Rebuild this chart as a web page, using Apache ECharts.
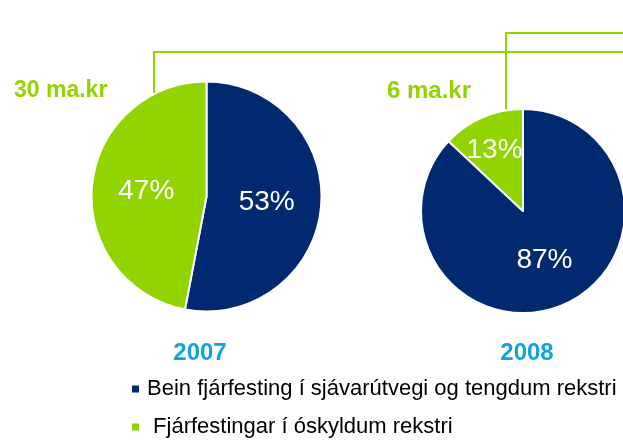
<!DOCTYPE html>
<html>
<head>
<meta charset="utf-8">
<script src="https://cdn.jsdelivr.net/npm/echarts@6/dist/echarts.min.js"></script>
<style>
  html, body { margin: 0; padding: 0; background: #fff; }
  #chart { width: 623px; height: 443px; }
</style>
</head>
<body>
<div id="chart"></div>
<script>
// data
const years = ['2007', '2008'];
const totals = [30, 6]; // ma.kr
const categories = ['Bein fjárfesting í sjávarútvegi og tengdum rekstri', 'Fjárfestingar í óskyldum rekstri'];
const beinShare = [53, 87];
const otherShare = [47, 13];

const BLUE = '#00296F';
const GREEN = '#92D400';
const YEAR_BLUE = '#0FA3DF';
const FONT = '"Liberation Sans", Arial, sans-serif';

const pieCenters = [[206.5, 196.5], [523, 211]];
const pieRadius = [115, 102];
const totalPos = [[14, 79], [387, 79]];
const yearX = [200, 527];

const chart = echarts.init(document.getElementById('chart'));

const series = years.map((y, i) => ({
  name: y,
  type: 'pie',
  center: pieCenters[i],
  radius: pieRadius[i],
  startAngle: 90,
  clockwise: true,
  silent: true,
  itemStyle: { borderColor: '#fff', borderWidth: 2 },
  label: {
    show: true,
    position: 'inside',
    formatter: '{d}%',
    color: '#fff',
    fontFamily: FONT,
    fontSize: 28
  },
  labelLine: { show: false },
  data: [
    { name: categories[0], value: beinShare[i], itemStyle: { color: BLUE } },
    {
      name: categories[1], value: otherShare[i], itemStyle: { color: GREEN },
      label: i === 1 ? { offset: [-7, -11] } : {}
    }
  ]
}));

const titles = [];
years.forEach((y, i) => {
  titles.push({
    text: totals[i] + ' ma.kr',
    left: totalPos[i][0], top: totalPos[i][1],
    padding: 0,
    textStyle: { color: GREEN, fontFamily: FONT, fontWeight: 'bold', fontSize: i === 0 ? 23 : 24 }
  });
  titles.push({
    text: y,
    left: yearX[i], top: 341,
    textAlign: 'center',
    padding: 0,
    textStyle: { color: YEAR_BLUE, fontFamily: FONT, fontWeight: 'bold', fontSize: 24 }
  });
});

chart.setOption({
  animation: false,
  backgroundColor: '#fff',
  title: titles,
  legend: {
    orient: 'vertical',
    left: 130,
    top: 378,
    icon: 'rect',
    itemWidth: 9,
    itemHeight: 9,
    itemGap: 16,
    selectedMode: false,
    padding: 0,
    data: categories,
    formatter: n => n === categories[1] ? ' ' + n : n,
    textStyle: { color: '#000', fontFamily: FONT, fontSize: 22, lineHeight: 22, padding: [0, 0, 0, 2] }
  },
  graphic: [
    {
      type: 'polyline', silent: true,
      shape: { points: [[154, 96], [154, 52], [623, 52]] },
      style: { stroke: GREEN, lineWidth: 2, fill: null }
    },
    {
      type: 'polyline', silent: true,
      shape: { points: [[506, 110], [506, 33], [623, 33]] },
      style: { stroke: GREEN, lineWidth: 2, fill: null }
    }
  ],
  series: series
});
</script>
</body>
</html>
